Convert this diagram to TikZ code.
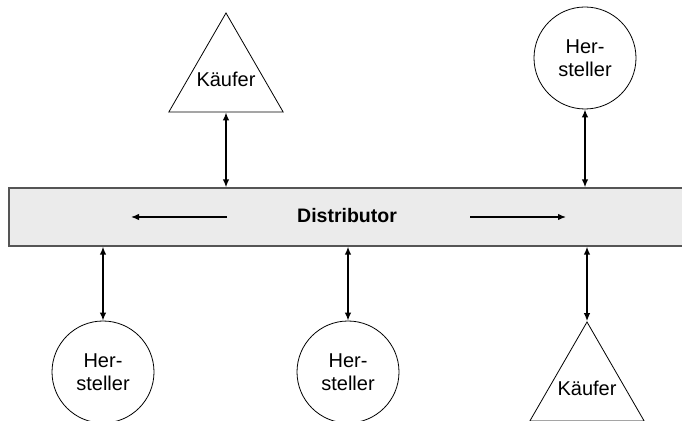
\documentclass[tikz,border=0pt]{standalone}
\usepackage{fontspec}
\setmainfont{Liberation Sans}
\usepackage{xcolor}
\usetikzlibrary{positioning,shapes.geometric,arrows.meta,calc}

\definecolor{bandgray}{HTML}{EBEBEB}
\definecolor{bandline}{HTML}{555555}

\begin{document}
\begin{tikzpicture}[
  x=1pt, y=1pt,
  every node/.style={font=\fontsize{20}{23}\selectfont},
  >={Latex[length=8pt,width=6.5pt]},
  kaeufer/.style={draw, line width=0.8pt, regular polygon,
                  regular polygon sides=3, minimum size=132, inner sep=0pt},
  hersteller/.style={draw, line width=0.8pt, circle, minimum size=102,
                     inner sep=0pt, align=center},
  link/.style={<->, line width=1.4pt},
  flow/.style={->, line width=1.3pt}
]
% Scale: 1pt = 1px of the 682x420 frame
\useasboundingbox (0,0) rectangle (682,420);
\clip (0,0) rectangle (682,420);

%% --- Distributor band (runs off the right edge) --------------
\node[draw=bandline, line width=1.3pt, fill=bandgray,
      minimum width=691, minimum height=58, inner sep=0pt]
     (dist) at (354.5,203) {};
\node[font=\fontsize{19.5}{22}\selectfont\bfseries] (distlabel) at (347,204)
     {Distributor};

%% --- Flow arrows inside the band -----------------------------
\coordinate (flowLa) at (227,203);
\coordinate (flowLb) at (131,203);
\coordinate (flowRa) at (470,203);
\coordinate (flowRb) at (566,203);
\draw[flow] (flowLa) -- (flowLb);
\draw[flow] (flowRa) -- (flowRb);

%% --- Parties above the band ----------------------------------
\node[kaeufer, label={center:Käufer}] (kaeuferA) at (226,341) {};
\node[hersteller] (herstA) at (585,362) {Her-\\steller};

%% --- Parties below the band ----------------------------------
\node[hersteller] (herstB) at (103,48) {Her-\\steller};
\node[hersteller] (herstC) at (348,48) {Her-\\steller};
\node[kaeufer, label={center:Käufer}] (kaeuferB) at (587,32) {};

%% --- Links to the band ---------------------------------------
\draw[link] (kaeuferA.south) -- (kaeuferA.south |- dist.north);
\draw[link] (herstA.south)   -- (herstA.south |- dist.north);
\draw[link] (dist.south -| herstB.north)   -- (herstB.north);
\draw[link] (dist.south -| herstC.north)   -- (herstC.north);
\draw[link] (dist.south -| kaeuferB.north) -- (kaeuferB.north);

\end{tikzpicture}
\end{document}
